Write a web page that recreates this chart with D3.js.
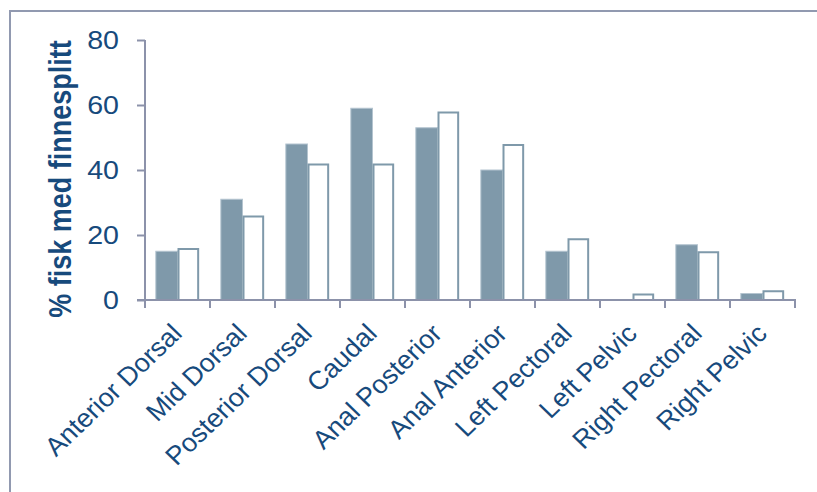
<!DOCTYPE html>
<html>
<head>
<meta charset="utf-8">
<script src="https://cdn.jsdelivr.net/npm/d3@7"></script>
<style>
  html, body { margin: 0; padding: 0; background: #ffffff; }
  svg { display: block; }
</style>
</head>
<body>
<div id="chart"></div>
<script>
const categories = ["Anterior Dorsal", "Mid Dorsal", "Posterior Dorsal", "Caudal", "Anal Posterior",
  "Anal Anterior", "Left Pectoral", "Left Pelvic", "Right Pectoral", "Right Pelvic"];
const seriesNames = ["A", "B"];
const seriesA = [15, 31, 48, 59, 53, 40, 15, 0, 17, 2];
const seriesB = [16, 26, 42, 42, 58, 48, 19, 2, 15, 3];
const yTicks = [0, 20, 40, 60, 80];
const yTitle = "% fisk med finnesplitt";

const W = 817, H = 492;
const textColor = "#174a7c";
const axisColor = "#8c92aa";
const barColor = "#7f99aa";
const stretch = 1.1;
const labelStretch = 1.04;

const svg = d3.select("#chart").append("svg").attr("width", W).attr("height", H);

// outer frame
svg.append("rect").attr("x", 10).attr("y", 11).attr("width", W + 20).attr("height", H + 20)
  .attr("fill", "none").attr("stroke", "#9199b0").attr("stroke-width", 2);

const x0 = d3.scaleBand().domain(categories).range([145, 795]).paddingInner(0).paddingOuter(0);
const x1 = d3.scaleBand().domain(seriesNames).range([0, x0.bandwidth()]).paddingInner(0).paddingOuter(0.5);
const y = d3.scaleLinear().domain([0, 80]).range([300, 40]);

const data = categories.map((c, i) => ({ c, vals: [{ s: "A", v: seriesA[i] }, { s: "B", v: seriesB[i] }] }));

const groups = svg.append("g").selectAll("g").data(data).join("g")
  .attr("transform", d => `translate(${x0(d.c)},0)`);

groups.selectAll("rect").data(d => d.vals.filter(e => e.v > 0)).join("rect")
  .attr("x", e => x1(e.s) + (e.s === "B" ? 1 : 0))
  .attr("width", e => x1.bandwidth() - (e.s === "B" ? 2 : 0))
  .attr("y", e => y(e.v) + (e.s === "B" ? 1 : 0))
  .attr("height", e => y(0) - y(e.v) - (e.s === "B" ? 1 : 0))
  .attr("fill", e => e.s === "A" ? barColor : "#ffffff")
  .attr("stroke", e => e.s === "A" ? "#b4c4cf" : barColor)
  .attr("stroke-width", e => e.s === "A" ? 1 : 2);

// y axis
const yAxis = d3.axisLeft(y).tickValues(yTicks).tickSize(8).tickPadding(0).tickFormat(d3.format("d"));
const gy = svg.append("g").attr("transform", "translate(145,0)").call(yAxis);
gy.select(".domain").attr("stroke", axisColor).attr("stroke-width", 2).attr("d", "M0,40V300");
gy.selectAll(".tick line").attr("stroke", axisColor).attr("stroke-width", 2);
gy.selectAll(".tick text")
  .attr("x", null)
  .attr("transform", `translate(-26,0) scale(${stretch},1)`)
  .attr("fill", textColor)
  .style("font-family", "'Liberation Sans', Arial, sans-serif").style("font-size", "26px");

// x axis
svg.append("line").attr("x1", 137).attr("x2", x0.range()[1] + 1).attr("y1", y(0)).attr("y2", y(0))
  .attr("stroke", axisColor).attr("stroke-width", 2);
const bounds = categories.map(c => x0(c)).concat([x0(categories[categories.length - 1]) + x0.bandwidth()]);
svg.append("g").selectAll("line").data(bounds).join("line")
  .attr("x1", d => d).attr("x2", d => d).attr("y1", y(0)).attr("y2", y(0) + 8)
  .attr("stroke", axisColor).attr("stroke-width", 2);

svg.append("g").selectAll("text").data(categories).join("text")
  .attr("transform", c => `translate(${x0(c) + x0.bandwidth() / 2 + 6},335) scale(${labelStretch},1) rotate(-45)`)
  .attr("text-anchor", "end")
  .attr("fill", textColor)
  .style("font-family", "'Liberation Sans', Arial, sans-serif").style("font-size", "26px")
  .text(c => c);

// y title
svg.append("text")
  .attr("transform", `translate(71,179) scale(${stretch + 0.05},1) rotate(-90)`)
  .attr("text-anchor", "middle")
  .attr("fill", textColor)
  .style("font-family", "'Liberation Sans', Arial, sans-serif").style("font-size", "27px")
  .style("font-weight", "bold")
  .text(yTitle);
</script>
</body>
</html>
